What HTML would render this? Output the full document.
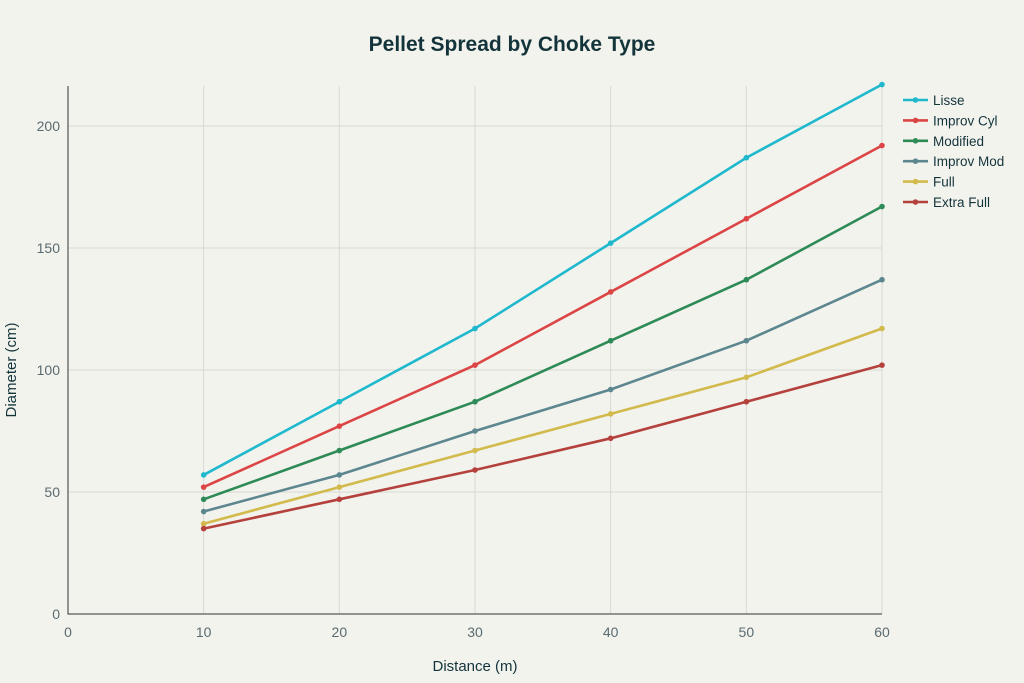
<!DOCTYPE html>
<html><head><meta charset="utf-8"><style>
body{margin:0;background:#F3F3EE;font-family:"Liberation Sans",sans-serif;}
svg{display:block}
</style></head><body>
<svg id="c" width="1024" height="683">
<rect width="1024" height="683" fill="#F3F3EE"/>
<text x="512" y="51" text-anchor="middle" font-size="21" font-weight="bold" fill="#13343B">Pellet Spread by Choke Type</text>
<g id="grid"></g><g id="axes"></g><g id="series"></g><g id="legend"></g>
<text x="475" y="671" text-anchor="middle" font-size="15" fill="#13343B">Distance (m)</text>
<text transform="translate(16,370) rotate(-90)" text-anchor="middle" font-size="15" fill="#13343B">Diameter (cm)</text>
</svg>
<script>
const categories=[10,20,30,40,50,60];
const seriesNames=["Lisse","Improv Cyl","Modified","Improv Mod","Full","Extra Full"];
const lisse=[57,87,117,152,187,217];
const improvCyl=[52,77,102,132,162,192];
const modified=[47,67,87,112,137,167];
const improvMod=[42,57,75,92,112,137];
const full=[37,52,67,82,97,117];
const extraFull=[35,47,59,72,87,102];
const xTicks=[0,10,20,30,40,50,60];
const yTicks=[0,50,100,150,200];
const colors=["#1FB8CD","#DB4545","#2E8B57","#5D878F","#D2BA4C","#B4413C"];
const allSeries=[lisse,improvCyl,modified,improvMod,full,extraFull];
const NS="http://www.w3.org/2000/svg";
const x=v=>68+v*(882-68)/60;
const y=v=>614-v*(614-126)/200;
function mk(tag,attrs,parent){const e=document.createElementNS(NS,tag);for(const k in attrs)e.setAttribute(k,attrs[k]);parent.appendChild(e);return e;}
const grid=document.getElementById('grid'),axes=document.getElementById('axes'),ser=document.getElementById('series'),leg=document.getElementById('legend');
xTicks.forEach(t=>{
 if(t>0){const l=mk('line',{x1:x(t),x2:x(t),y1:86,y2:614,stroke:'#D9D9D4','stroke-width':1},grid);
 
 }
 const tx=mk('text',{x:x(t),y:637,'text-anchor':'middle','font-size':14,fill:'#5A6B70'},axes);tx.textContent=t;
 
 
});
yTicks.forEach(t=>{
 if(t>0){const l=mk('line',{x1:68,x2:882,y1:y(t),y2:y(t),stroke:'#D9D9D4','stroke-width':1},grid);
 
 }
 const tx=mk('text',{x:60,y:y(t)+5,'text-anchor':'end','font-size':14,fill:'#5A6B70'},axes);tx.textContent=t;
 
 
});
const ax=mk('path',{d:`M68 86 V614 H882`,stroke:'#333',fill:'none','stroke-width':1},axes);


allSeries.forEach((vals,i)=>{
 const g=mk('g',{},ser);
 
 
 const pts=vals.map((v,j)=>x(categories[j])+','+y(v)).join(' ');
 mk('polyline',{points:pts,fill:'none',stroke:colors[i],'stroke-width':2.6},g);
 vals.forEach((v,j)=>{const c=mk('circle',{cx:x(categories[j]),cy:y(v),r:2.8,fill:colors[i]},g);
 
 });
 const ly=100+i*20.4;
 const lg=mk('g',{},leg);
 
 
 mk('line',{x1:903,x2:928,y1:ly,y2:ly,stroke:colors[i],'stroke-width':2.6},lg);
 mk('circle',{cx:915.5,cy:ly,r:2.8,fill:colors[i]},lg);
 const t=mk('text',{x:933,y:ly+5,'font-size':13.5,fill:'#13343B'},lg);t.textContent=seriesNames[i];
});
</script>
</body></html>
